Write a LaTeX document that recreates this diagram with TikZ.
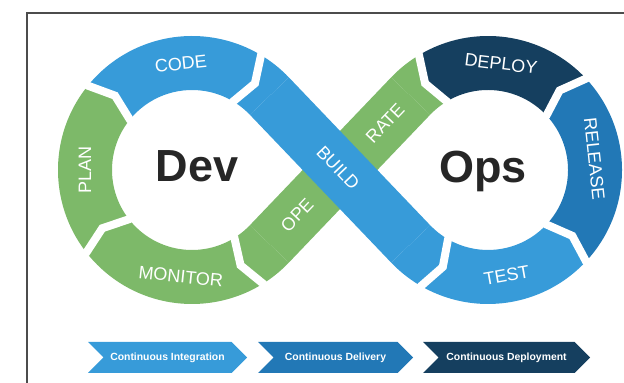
\documentclass[tikz,border=0pt]{standalone}
\usepackage{fontspec}
\setmainfont{Liberation Sans}
\usetikzlibrary{calc,positioning,shapes.symbols}

\definecolor{devblue}{HTML}{379BD9}
\definecolor{relblue}{HTML}{2278B6}
\definecolor{opsnavy}{HTML}{153F5F}
\definecolor{devgreen}{HTML}{7DB969}

% one coloured piece of a ring: centre, from angle, tip turn there,
% to angle, tip turn there, colour
\newcommand{\ringpart}[6]{%
  \fill[#6] ($(#1)+(#2:134)$) arc[start angle=#2, end angle=#4, radius=134]
    -- ($(#1)+(#4+#5:107)$) -- ($(#1)+(#4:80)$)
    arc[start angle=#4, end angle=#2, radius=80]
    -- ($(#1)+(#2+#3:107)$) -- cycle;}
% white chevron gap between two pieces: centre, angle, turn of the tip
\newcommand{\cutmark}[3]{%
  \draw[cutline] ($(#1)+(#2:142)$) -- ($(#1)+(#2:134)$) -- ($(#1)+(#2+#3:107)$)
    -- ($(#1)+(#2:80)$) -- ($(#1)+(#2:72)$);}

\begin{document}
\begin{tikzpicture}[x=0.5pt, y=0.5pt,
  cutline/.style={white, line width=4pt},
  ringlbl/.style={text=white, font=\fontsize{9}{9}\selectfont, inner sep=0pt},
  biglbl/.style={text=black!85, font=\fontsize{22.5}{24}\selectfont\bfseries,
    inner sep=0pt, anchor=base},
  phase/.style={signal, signal from=west, signal to=east, signal pointer angle=90,
    minimum height=15.5pt, text=white, font=\fontsize{5.2}{5.2}\selectfont\bfseries,
    inner sep=0pt},
]
\useasboundingbox (0,0) rectangle (624,383);
\draw[black!70, line width=0.75pt] (27,0) -- (27,370) -- (624,370);

\coordinate (devc) at (192,213);
\coordinate (opsc) at (488,213);

% the two loops
\ringpart{devc}{43.7}{0}{141}{-5}{devblue}
\ringpart{devc}{141}{-5}{316.3}{0}{devgreen}
\ringpart{opsc}{223.7}{0}{317}{5}{devblue}
\ringpart{opsc}{317}{5}{403}{5}{relblue}
\ringpart{opsc}{43}{5}{121}{5}{opsnavy}
\ringpart{opsc}{121}{5}{136.3}{0}{devgreen}

% crossing bands
\fill[devgreen] ($(opsc)+(136.3:134)$) -- ($(devc)+(316.3:80)$)
  -- ($(devc)+(316.3:134)$) -- ($(opsc)+(136.3:80)$) -- cycle;
\node[ringlbl, rotate=46.3] (ope) at (297,168) {OPE};
\node[ringlbl, rotate=46.3] (rate) at (385,260) {RATE};
\fill[devblue] ($(devc)+(43.7:134)$) -- ($(opsc)+(223.7:80)$)
  -- ($(opsc)+(223.7:134)$) -- ($(devc)+(43.7:80)$) -- cycle;
\node[ringlbl, rotate=-46.3] (build) at (338,215) {BUILD};

% gaps
\cutmark{devc}{59}{-5}
\cutmark{devc}{141}{-5}
\cutmark{devc}{218}{-5}
\cutmark{devc}{302}{-5}
\cutmark{opsc}{240}{5}
\cutmark{opsc}{317}{5}
\cutmark{opsc}{43}{5}
\cutmark{opsc}{121}{5}

\node[ringlbl, rotate=6] (code) at ($(devc)+(96:107)$) {CODE};
\node[ringlbl, rotate=90] (plan) at ($(devc)+(180:107)$) {PLAN};
\node[ringlbl, rotate=-6] (monitor) at ($(devc)+(264:107)$) {MONITOR};
\node[ringlbl, rotate=-7] (deploy) at ($(opsc)+(83:107)$) {DEPLOY};
\node[ringlbl, rotate=-84] (release) at ($(opsc)+(6:107)$) {RELEASE};
\node[ringlbl, rotate=10] (test) at ($(opsc)+(280:107)$) {TEST};

\node[biglbl] (dev) at (197,201) {Dev};
\node[biglbl] (ops) at (483,200) {Ops};

% pipeline stages
\node[phase, fill=devblue, minimum width=79.5pt] (integ) at (167.5,25.5)
  {Continuous Integration};
\node[phase, fill=relblue, minimum width=77.5pt] (deliv) at (335.5,25.5)
  {Continuous Delivery};
\node[phase, fill=opsnavy, minimum width=83.5pt] (contdep) at (506.5,25.5)
  {Continuous Deployment};
\end{tikzpicture}
\end{document}
